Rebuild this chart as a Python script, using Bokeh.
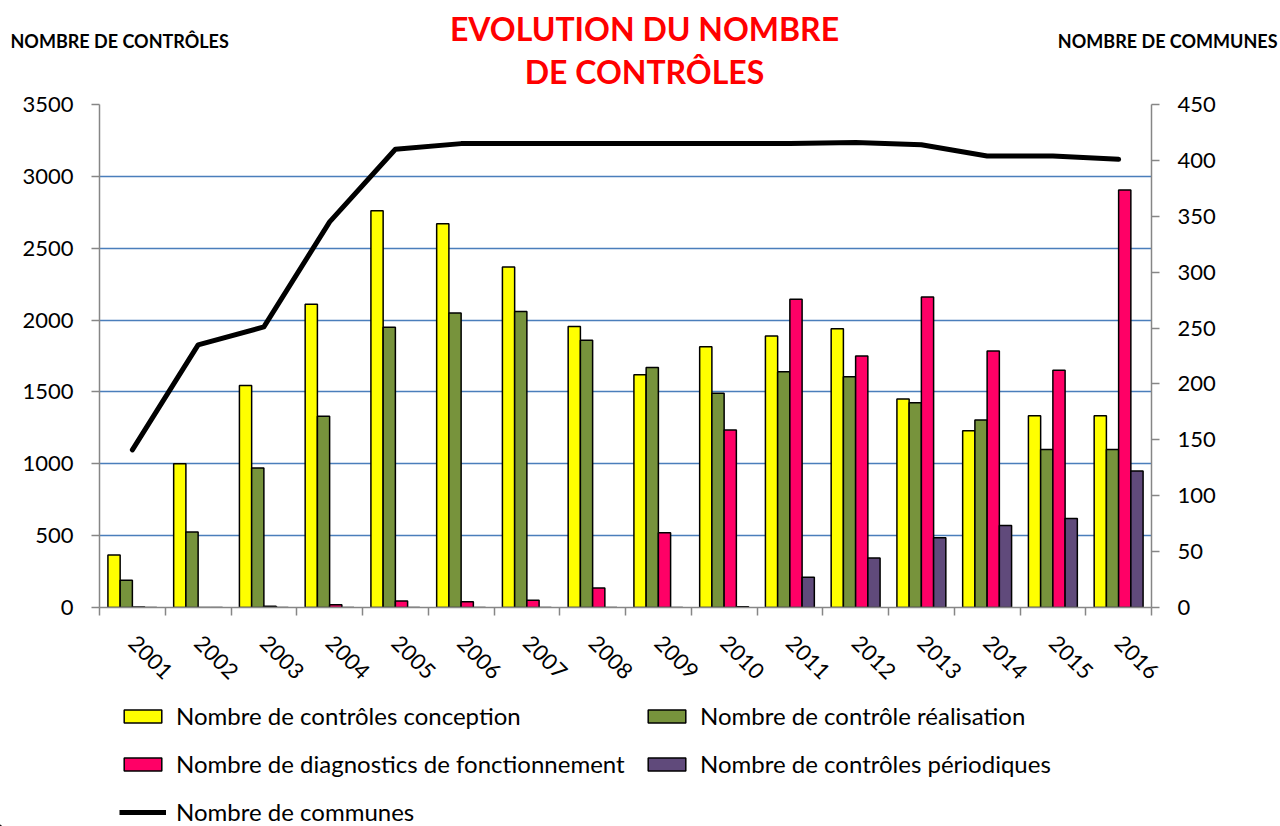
from bokeh.plotting import figure
from bokeh.layouts import column
from bokeh.models import (Range1d, LinearAxis, FixedTicker, Label, Legend, LegendItem)
from bokeh.embed import file_html
from bokeh.resources import INLINE

# ---------------- data ----------------
years = ["2001", "2002", "2003", "2004", "2005", "2006", "2007", "2008",
         "2009", "2010", "2011", "2012", "2013", "2014", "2015", "2016"]
conception = [365, 1000, 1545, 2110, 2760, 2670, 2370, 1955, 1620, 1815, 1890, 1940, 1450, 1230, 1335, 1335]
realisation = [190, 525, 970, 1330, 1950, 2050, 2060, 1860, 1670, 1490, 1640, 1605, 1425, 1305, 1100, 1100]
diagnostics = [3, 0, 8, 20, 45, 40, 50, 135, 520, 1235, 2145, 1750, 2160, 1785, 1650, 2905]
periodiques = [0, 0, 0, 0, 0, 0, 0, 0, 0, 5, 210, 345, 485, 570, 620, 950]
communes = [141, 235, 251, 345, 410, 415, 415, 415, 415, 415, 415, 416, 414, 404, 404, 401]

left_ticks = [0, 500, 1000, 1500, 2000, 2500, 3000, 3500]
right_ticks = [0, 50, 100, 150, 200, 250, 300, 350, 400, 450]

series_names = ["Nombre de contrôles conception", "Nombre de contrôle réalisation",
                "Nombre de diagnostics de fonctionnement", "Nombre de contrôles périodiques"]
line_name = "Nombre de communes"
title_lines = ["EVOLUTION DU NOMBRE", "DE CONTRÔLES"]
left_title = "NOMBRE DE CONTRÔLES"
right_title = "NOMBRE DE COMMUNES"

FONT = "Lato"
GRAY = "#868686"
colors = ["#FFFF00", "#77933C", "#FF0066", "#604A7B"]
W = 1280
TOP_H, MAIN_H, LEG_H = 90, 599, 137


def bare_fig(h, y_range):
    f = figure(width=W, height=h, output_backend="svg", toolbar_location=None,
               x_range=Range1d(0, W), y_range=y_range, frame_align=False,
               min_border=0, min_border_left=0, min_border_right=0,
               min_border_top=0, min_border_bottom=0,
               x_axis_location=None, y_axis_location=None)
    f.outline_line_color = None
    f.grid.visible = False
    return f


# ---------------- title strip ----------------
top = bare_fig(TOP_H, Range1d(TOP_H, 0))
for txt, yy in zip(title_lines, [28, 71]):
    top.add_layout(Label(x=644, y=yy, text=txt, text_font=FONT, text_font_style="bold",
                         text_font_size="32px", text_color="#FF0000",
                         text_align="center", text_baseline="middle"))
top.add_layout(Label(x=10, y=40, text=left_title, text_font=FONT, text_font_style="bold",
                     text_font_size="18px", text_color="black",
                     text_align="left", text_baseline="middle"))
top.add_layout(Label(x=1277, y=40, text=right_title, text_font=FONT, text_font_style="bold",
                     text_font_size="18px", text_color="black",
                     text_align="right", text_baseline="middle"))

# ---------------- main chart ----------------
p = figure(width=W, height=MAIN_H, output_backend="svg", toolbar_location=None,
           x_range=Range1d(-0.5, len(years) - 0.5), y_range=Range1d(0, 3500), frame_align=False,
           min_border_left=99, min_border_right=129, min_border_top=14, min_border_bottom=80)
p.outline_line_color = None
p.extra_y_ranges = {"right": Range1d(0, 450)}

xs = list(range(len(years)))
bw = 0.186
vals = [conception, realisation, diagnostics, periodiques]
for i, (v, c) in enumerate(zip(vals, colors)):
    off = (i - 1.5) * bw
    p.vbar(x=[x + off for x in xs], top=v, width=bw, bottom=0,
           fill_color=c, line_color="black", line_width=1.5)

p.line(x=xs, y=communes, y_range_name="right", line_color="black",
       line_width=5, line_join="round", line_cap="round")

p.xaxis.ticker = FixedTicker(ticks=xs, minor_ticks=[x - 0.5 for x in range(len(years) + 1)])
p.xaxis.major_label_overrides = {i: y for i, y in enumerate(years)}
p.xaxis.major_label_orientation = -0.785398
p.xaxis.major_tick_line_color = None
p.xaxis.major_tick_out = 0
p.xaxis.major_tick_in = 0
p.xaxis.minor_tick_line_color = GRAY
p.xaxis.minor_tick_line_width = 1.5
p.xaxis.minor_tick_out = 8
p.xaxis.minor_tick_in = 0
p.xaxis.major_label_standoff = 24

p.yaxis.ticker = FixedTicker(ticks=left_ticks)
p.yaxis.minor_tick_line_color = None
p.yaxis.major_label_standoff = 18
p.yaxis.major_tick_line_color = GRAY
p.yaxis.major_tick_line_width = 1.5
p.yaxis.major_tick_out = 8
p.yaxis.major_tick_in = 0

rax = LinearAxis(y_range_name="right", ticker=FixedTicker(ticks=right_ticks))
rax.major_tick_line_color = GRAY
rax.major_tick_line_width = 1.5
rax.major_tick_out = 8
rax.major_tick_in = 0
rax.minor_tick_line_color = None
rax.major_label_standoff = 18
p.add_layout(rax, "right")

for ax in [p.xaxis[0], p.yaxis[0], rax]:
    ax.axis_line_color = GRAY
    ax.axis_line_width = 1.5
    ax.major_label_text_font = FONT
    ax.major_label_text_font_size = "22px"
    ax.major_label_text_color = "black"

p.xgrid.grid_line_color = None
p.ygrid.grid_line_color = "#4A7EBB"
p.ygrid.grid_line_width = 1.4
p.ygrid.ticker = FixedTicker(ticks=left_ticks)

# ---------------- legend strip ----------------
leg = bare_fig(LEG_H, Range1d(0, LEG_H))
dummy = {}
for name, c in zip(series_names, colors):
    dummy[name] = leg.vbar(x=[-100], top=[1], width=1, fill_color=c,
                           line_color="black", line_width=1.5)
dummy[line_name] = leg.line(x=[-100, -90], y=[1, 1], line_color="black", line_width=5)


def make_legend(names, loc):
    lg = Legend(items=[LegendItem(label=n, renderers=[dummy[n]]) for n in names],
                location=loc, orientation="vertical")
    lg.label_text_font = FONT
    lg.label_text_font_size = "24px"
    lg.label_text_color = "black"
    lg.glyph_width = 47
    lg.glyph_height = 16
    lg.label_height = 20
    lg.label_standoff = 10
    lg.spacing = 19
    lg.padding = 0
    lg.margin = 0
    lg.border_line_color = None
    lg.background_fill_alpha = 0
    return lg


leg.add_layout(make_legend([series_names[0], series_names[2], line_name], (119, 0)), "center")
leg.add_layout(make_legend([series_names[1], series_names[3]], (643, 48)), "center")

layout = column(top, p, leg, spacing=0)
open("out.html", "w").write(file_html(layout, INLINE))
